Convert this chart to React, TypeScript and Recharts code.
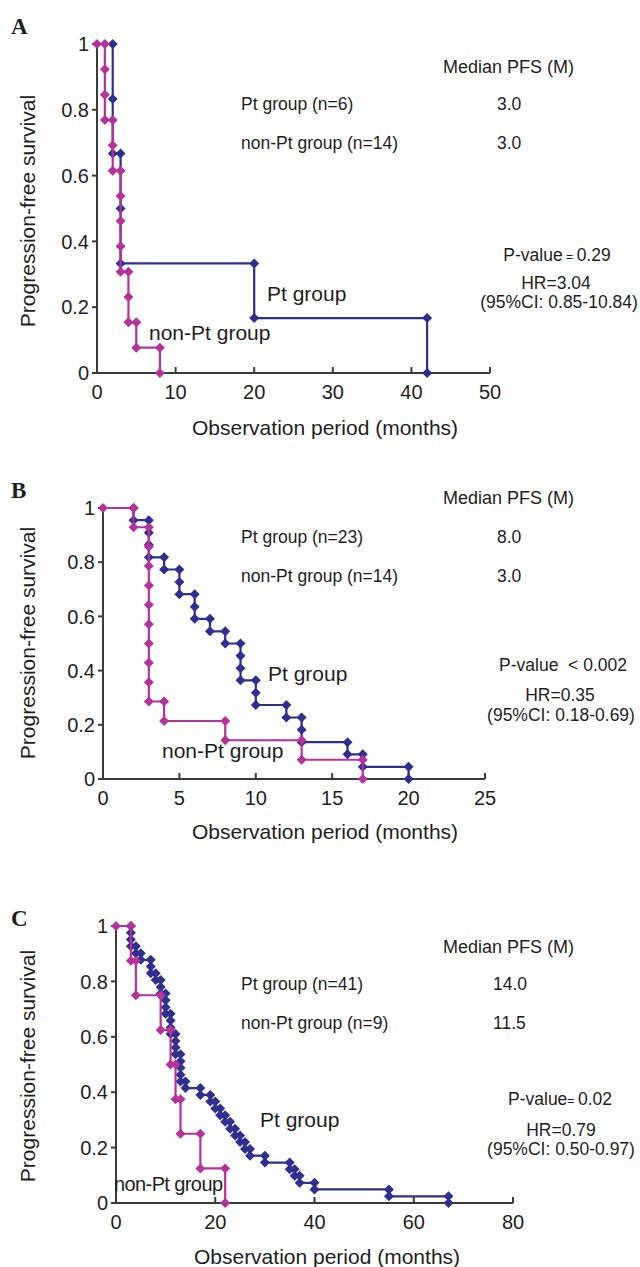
import React from 'react'
import { ScatterChart, Scatter, XAxis, YAxis } from 'recharts'

const FONT = '"Liberation Sans", Arial, Helvetica, sans-serif'
const SERIF = '"Liberation Serif", "Times New Roman", serif'
const BLUE = '#2e2f8e'
const MAGENTA = '#b5329a'
const AXIS = '#3a3a3a'

// survival is the value after each event; the first entry is where the curve starts
const aPtTimes = [2, 2, 2, 3, 3, 20, 42]
const aPtSurv = [1, 0.833, 0.667, 0.5, 0.333, 0.167, 0]
const aNonTimes = [0, 1, 1, 1, 2, 2, 3, 3, 3, 3, 4, 4, 5, 8]
const aNonSurv = [1, 0.923, 0.846, 0.769, 0.692, 0.615, 0.538, 0.462, 0.385, 0.308, 0.231, 0.154, 0.077, 0]

const bPtTimes = [2, 2, 3, 3, 3, 4, 5, 5, 6, 6, 7, 8, 9, 9, 9, 10, 10, 12, 13, 13, 16, 17, 20]
const bPtSurv = [
  1, 0.955, 0.909, 0.864, 0.818, 0.773, 0.727, 0.682, 0.636, 0.591, 0.545, 0.5, 0.455, 0.409, 0.364,
  0.318, 0.273, 0.227, 0.182, 0.136, 0.091, 0.045, 0,
]
const bNonTimes = [0, 2, 3, 3, 3, 3, 3, 3, 3, 3, 3, 4, 8, 13, 17]
const bNonSurv = [1, 0.929, 0.857, 0.786, 0.714, 0.643, 0.571, 0.5, 0.429, 0.357, 0.286, 0.214, 0.143, 0.071, 0]

const cPtTimes = [
  3, 3, 3, 3, 4, 5, 7, 7, 8, 9, 9, 10, 10, 10, 11, 11, 11, 12, 12, 12, 13, 13, 13, 13, 14, 17, 19, 20,
  21, 22, 23, 24, 25, 26, 27, 30, 35, 36, 37, 40, 55, 67,
]
const cPtSurv = [
  1, 0.976, 0.951, 0.927, 0.902, 0.878, 0.854, 0.829, 0.805, 0.78, 0.756, 0.732, 0.707, 0.683, 0.659,
  0.634, 0.61, 0.585, 0.561, 0.537, 0.512, 0.488, 0.463, 0.439, 0.415, 0.39, 0.366, 0.341, 0.317, 0.293,
  0.268, 0.244, 0.22, 0.195, 0.171, 0.146, 0.122, 0.098, 0.073, 0.049, 0.024, 0,
]
const cNonTimes = [0, 3, 4, 9, 11, 12, 13, 17, 22]
const cNonSurv = [1, 0.875, 0.75, 0.625, 0.5, 0.375, 0.25, 0.125, 0]

const yTicks = [0, 0.2, 0.4, 0.6, 0.8, 1]
const aXTicks = [0, 10, 20, 30, 40, 50]
const bXTicks = [0, 5, 10, 15, 20, 25]
const cXTicks = [0, 20, 40, 60, 80]

// Kaplan-Meier staircase: add the corner point before each drop at a new time
function steps(times: number[], surv: number[]) {
  const pts = [{ x: times[0], y: surv[0] }]
  for (let i = 1; i < times.length; i++) {
    if (times[i] !== times[i - 1]) pts.push({ x: times[i], y: surv[i - 1] })
    pts.push({ x: times[i], y: surv[i] })
  }
  return pts
}

const diamond = (props: any) => {
  const { cx, cy, fill } = props
  const r = 5
  return <path d={`M${cx},${cy - r}L${cx + r},${cy}L${cx},${cy + r}L${cx - r},${cy}Z`} fill={fill} />
}

function Note({
  x,
  y,
  children,
  size = 17.5,
  align = 'left',
  serif = false,
  bold = false,
  spacing = 0,
}: {
  x: number
  y: number
  children: React.ReactNode
  size?: number
  align?: 'left' | 'center'
  serif?: boolean
  bold?: boolean
  spacing?: number
}) {
  return (
    <div
      style={{
        position: 'absolute',
        left: x,
        top: y,
        transform: `translate(${align === 'center' ? '-50%' : '0'}, -50%)`,
        fontSize: size,
        lineHeight: 1,
        whiteSpace: 'nowrap',
        fontFamily: serif ? SERIF : FONT,
        fontWeight: bold ? 700 : 400,
        letterSpacing: spacing,
        color: '#1e1e1e',
      }}
    >
      {children}
    </div>
  )
}

function YTitle({ y }: { y: number }) {
  return (
    <div
      style={{
        position: 'absolute',
        left: 27,
        top: y,
        transform: 'translate(-50%, -50%) rotate(-90deg)',
        fontSize: 21,
        lineHeight: 1,
        whiteSpace: 'nowrap',
        fontFamily: FONT,
        color: '#1e1e1e',
      }}
    >
      Progression-free survival
    </div>
  )
}

interface PanelProps {
  top: number
  height: number
  plotTop: number
  plotBottom: number
  plotLeft: number
  plotRight: number
  xMax: number
  xTicks: number[]
  pt: { x: number; y: number }[]
  non: { x: number; y: number }[]
}

function Panel({ top, height, plotTop, plotBottom, plotLeft, plotRight, xMax, xTicks, pt, non }: PanelProps) {
  const tickStyle = { fill: '#1e1e1e', fontSize: 20, fontFamily: FONT }
  return (
    <div style={{ position: 'absolute', left: 0, top }}>
      <ScatterChart
        width={640}
        height={height}
        margin={{ top: plotTop - top, right: 640 - plotRight, bottom: 0, left: 0 }}
      >
        <XAxis
          type="number"
          dataKey="x"
          domain={[0, xMax]}
          ticks={xTicks}
          height={top + height - plotBottom}
          axisLine={{ stroke: AXIS, strokeWidth: 2 }}
          tickLine={{ stroke: AXIS, strokeWidth: 2 }}
          tickSize={-6}
          tickMargin={18}
          tick={tickStyle}
          interval={0}
        />
        <YAxis
          type="number"
          dataKey="y"
          domain={[0, 1]}
          ticks={yTicks}
          width={plotLeft}
          axisLine={{ stroke: AXIS, strokeWidth: 2 }}
          tickLine={{ stroke: AXIS, strokeWidth: 2 }}
          tickSize={5}
          tickMargin={3}
          tick={tickStyle}
          interval={0}
        />
        <Scatter
          data={pt}
          fill={BLUE}
          line={{ stroke: BLUE, strokeWidth: 2.2 }}
          shape={diamond}
          isAnimationActive={false}
        />
        <Scatter
          data={non}
          fill={MAGENTA}
          line={{ stroke: MAGENTA, strokeWidth: 2.2 }}
          shape={diamond}
          isAnimationActive={false}
        />
      </ScatterChart>
    </div>
  )
}

export default function App() {
  return (
    <div
      style={{
        position: 'absolute',
        left: 0,
        top: 0,
        width: 640,
        height: 1267,
        background: '#fff',
        overflow: 'hidden',
        fontFamily: FONT,
      }}
    >
      {/* A */}
      <Panel
        top={0}
        height={440}
        plotTop={44}
        plotBottom={373}
        plotLeft={97}
        plotRight={490}
        xMax={50}
        xTicks={aXTicks}
        pt={steps(aPtTimes, aPtSurv)}
        non={steps(aNonTimes, aNonSurv)}
      />
      <Note x={11} y={26} size={23} serif bold>A</Note>
      <YTitle y={211} />
      <Note x={325} y={427} size={21} align="center">Observation period (months)</Note>
      <Note x={443} y={67} size={18}>Median PFS (M)</Note>
      <Note x={241} y={105}>Pt group (n=6)</Note>
      <Note x={497} y={105}>3.0</Note>
      <Note x={241} y={144}>non-Pt group (n=14)</Note>
      <Note x={497} y={144}>3.0</Note>
      <Note x={557} y={256} align="center">
        P-value<span style={{ fontSize: '0.7em' }}> = </span>0.29
      </Note>
      <Note x={556} y={284} align="center">HR=3.04</Note>
      <Note x={559} y={303} align="center">(95%CI: 0.85-10.84)</Note>
      <Note x={267} y={293} size={21}>Pt group</Note>
      <Note x={149} y={332} size={21}>non-Pt group</Note>

      {/* B */}
      <Panel
        top={450}
        height={400}
        plotTop={508}
        plotBottom={779}
        plotLeft={103}
        plotRight={485}
        xMax={25}
        xTicks={bXTicks}
        pt={steps(bPtTimes, bPtSurv)}
        non={steps(bNonTimes, bNonSurv)}
      />
      <Note x={11} y={490} size={23} serif bold>B</Note>
      <YTitle y={643} />
      <Note x={325} y={831} size={21} align="center">Observation period (months)</Note>
      <Note x={443} y={498} size={18}>Median PFS (M)</Note>
      <Note x={241} y={538}>Pt group (n=23)</Note>
      <Note x={497} y={538}>8.0</Note>
      <Note x={241} y={577}>non-Pt group (n=14)</Note>
      <Note x={497} y={577}>3.0</Note>
      <Note x={563} y={666} align="center">P-value&nbsp; &lt; 0.002</Note>
      <Note x={560} y={696} align="center">HR=0.35</Note>
      <Note x={561} y={716} align="center">(95%CI: 0.18-0.69)</Note>
      <Note x={268} y={673} size={21}>Pt group</Note>
      <Note x={162} y={750} size={21}>non-Pt group</Note>

      {/* C */}
      <Panel
        top={860}
        height={407}
        plotTop={926}
        plotBottom={1203}
        plotLeft={116}
        plotRight={513}
        xMax={80}
        xTicks={cXTicks}
        pt={steps(cPtTimes, cPtSurv)}
        non={steps(cNonTimes, cNonSurv)}
      />
      <Note x={11} y={918} size={23} serif bold>C</Note>
      <YTitle y={1066} />
      <Note x={327} y={1256} size={21} align="center">Observation period (months)</Note>
      <Note x={443} y={947} size={18}>Median PFS (M)</Note>
      <Note x={241} y={985}>Pt group (n=41)</Note>
      <Note x={493} y={985}>14.0</Note>
      <Note x={241} y={1024}>non-Pt group (n=9)</Note>
      <Note x={493} y={1024}>11.5</Note>
      <Note x={560} y={1100} align="center">
        P-value<span style={{ fontSize: '0.7em' }}>= </span>0.02
      </Note>
      <Note x={561} y={1131} align="center">HR=0.79</Note>
      <Note x={561} y={1150} align="center">(95%CI: 0.50-0.97)</Note>
      <Note x={260} y={1119} size={21}>Pt group</Note>
      <Note x={114} y={1184} size={20} spacing={-0.6}>non-Pt group</Note>
    </div>
  )
}
